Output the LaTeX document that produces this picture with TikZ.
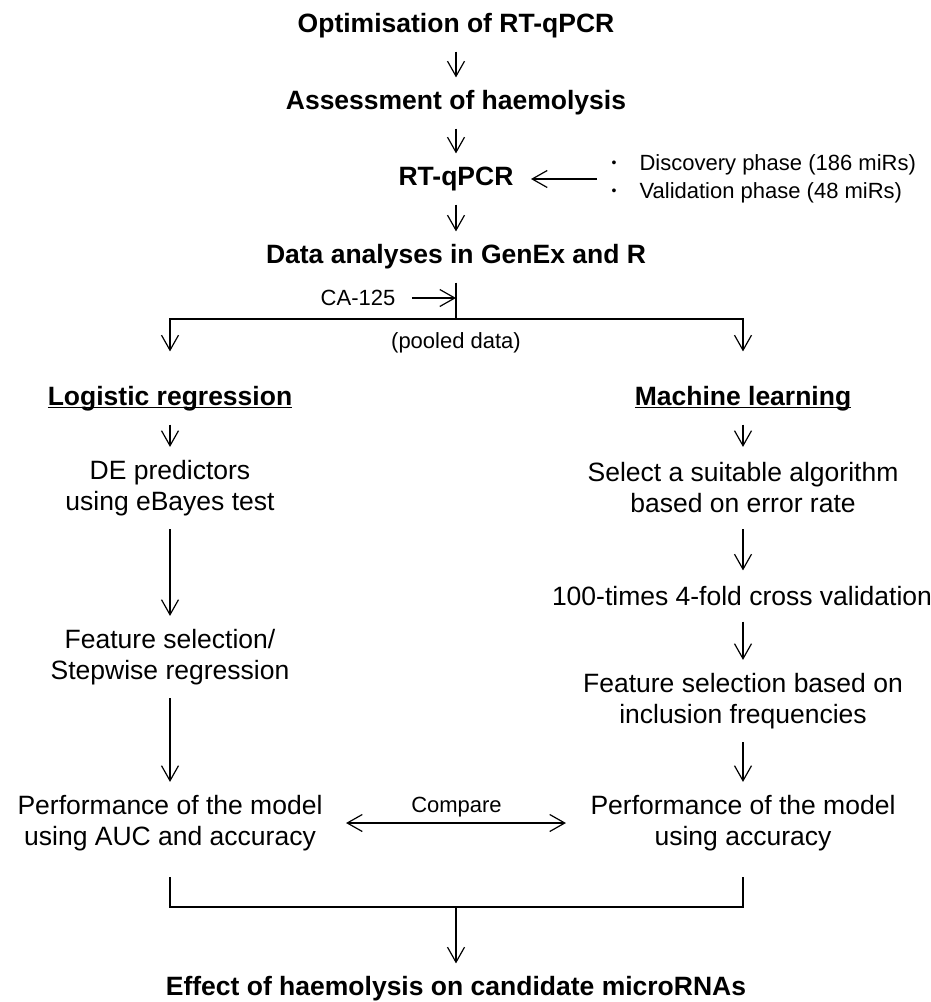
\documentclass[tikz,border=0pt]{standalone}
\usepackage{fontspec}
\setmainfont{Liberation Sans}
\usetikzlibrary{arrows.meta}

\newcommand{\ulhead}[1]{\setbox0\hbox{#1}\rlap{\rule[-2.2pt]{\wd0}{1.4pt}}\box0}
\newcommand{\dotitem}{\makebox[28pt][l]{\raisebox{3pt}{\fontsize{14}{14}\selectfont\textbullet}}}

\tikzset{
    flowtext/.style={inner sep=0pt, align=center, minimum height=50pt, font=\fontsize{26.5}{31}\selectfont},
    twoline/.style={flowtext, minimum height=81pt},
    headtext/.style={flowtext, font=\fontsize{26.5}{31}\selectfont\bfseries},
    smalltext/.style={inner sep=0pt, align=left, font=\fontsize{22}{28}\selectfont},
}

\begin{document}
\begin{tikzpicture}[x=1pt, y=-1pt, line width=1.2pt, >={Straight Barb[length=15pt,width=17pt]}]
    \useasboundingbox (0,0) rectangle (931,1002);

    % main column
    \node[headtext] (opt) at (456,26) {Optimisation of RT-qPCR};
    \node[headtext] (assess) at (456,103) {Assessment of haemolysis};
    \node[headtext] (rtq) at (456,179) {RT-qPCR};
    \node[headtext] (data) at (456,257) {Data analyses in GenEx and R};
    \node[smalltext, anchor=west] (phases) at (611,179)
        {\dotitem Discovery phase (186 miRs)\\
         \dotitem Validation phase (48 miRs)};
    \node[smalltext] (ca) at (358,298) {CA-125};
    \node[smalltext] (pooled) at (456,343) {(pooled data)};
    \coordinate (split) at (456,319);

    % two branches
    \node[headtext] (logreg) at (170,399) {\ulhead{Logistic regression}};
    \node[twoline] (de) at (170,488) {DE predictors\\using eBayes test};
    \node[twoline] (fsl) at (170,657) {Feature selection/\\Stepwise regression};
    \node[twoline] (perfl) at (170,823) {Performance of the model\\using AUC and accuracy};

    \node[headtext] (mlearn) at (743,399) {\ulhead{Machine learning}};
    \node[twoline] (algo) at (743,488) {Select a suitable algorithm\\based on error rate};
    \node[flowtext] (cv) at (742,596) {100-times 4-fold cross validation};
    \node[twoline] (fsr) at (743,701) {Feature selection based on\\inclusion frequencies};
    \node[twoline] (perfr) at (743,823) {Performance of the model\\using accuracy};

    \coordinate (merge) at (456,907);
    \node[headtext] (effect) at (456,989) {Effect of haemolysis on candidate microRNAs};

    \draw[->] (opt.south) -- (assess.north);
    \draw[->] (assess.south) -- (rtq.north);
    \draw[->] (rtq.south) -- (data.north);
    \draw[->, shorten <=14pt, shorten >=17pt] (phases.west) -- (phases.west -| rtq.east);
    \draw (data.south) -- (split);
    \draw[->, shorten <=16pt] (ca.east) -- (ca.east -| split);
    \draw[->, shorten >=22pt] (split) -| (logreg.north);
    \draw[->, shorten >=22pt] (split) -| (mlearn.north);

    \draw[->] (logreg.south) -- (de.north);
    \draw[->] (de.south) -- (fsl.north);
    \draw[->] (fsl.south) -- (perfl.north);
    \draw[->] (mlearn.south) -- (algo.north);
    \draw[->] (algo.south) -- (algo.south |- cv.north);
    \draw[->] (cv.south -| fsr.north) -- (fsr.north);
    \draw[->] (fsr.south) -- (perfr.north);

    \draw[<->, shorten <=23pt, shorten >=24pt] (perfl.east) -- node[smalltext, above=5.5pt] (cmp) {Compare} (perfr.west);
    \draw[shorten <=13pt] (perfl.south) |- (merge);
    \draw[shorten <=13pt] (perfr.south) |- (merge);
    \draw[->] (merge) -- (effect.north);
\end{tikzpicture}
\end{document}
